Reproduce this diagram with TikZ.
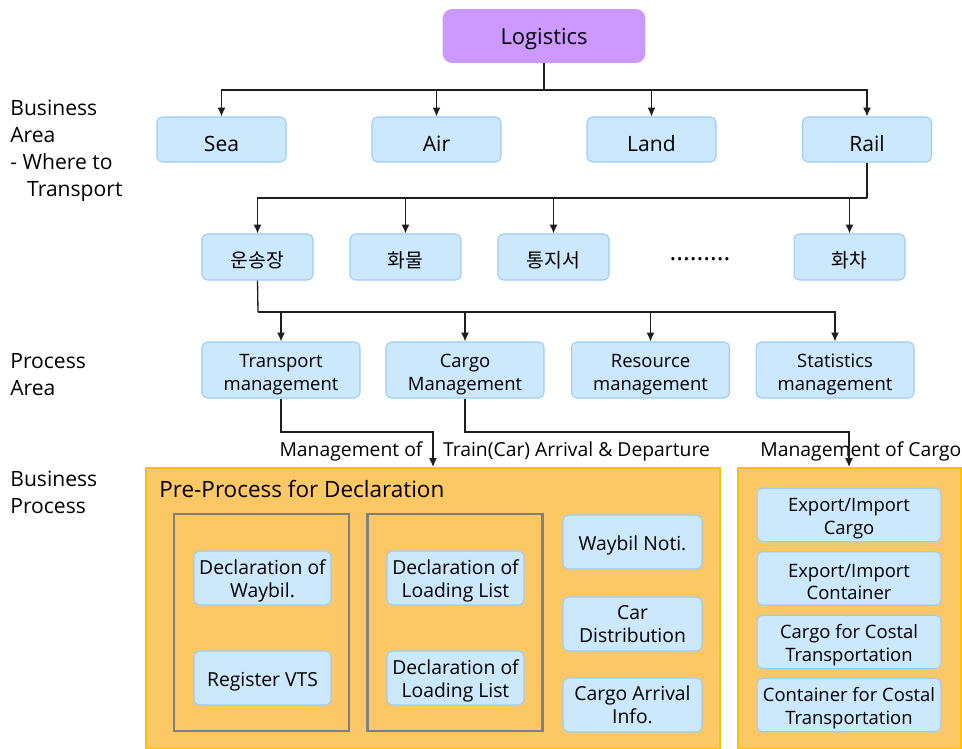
\documentclass[tikz,border=0pt]{standalone}
\usepackage{fontspec}
\setmainfont{Open Sans}
\newfontfamily\kr{Noto Sans CJK KR}
\usetikzlibrary{arrows.meta,positioning}

\definecolor{boxblue}{RGB}{204,232,252}
\definecolor{boxline}{RGB}{155,205,245}
\definecolor{logpurple}{RGB}{204,153,255}
\definecolor{bpfill}{RGB}{252,200,102}
\definecolor{bpline}{RGB}{255,192,0}
\definecolor{grpline}{RGB}{128,128,128}
\definecolor{wire}{RGB}{30,30,30}

\begin{document}
\begin{tikzpicture}[x=0.02cm, y=-0.02cm, >={Latex[length=5pt,width=4.5pt]}]

        % Setup the styles for the boxes
        \tikzset{text drop/.style={execute at begin node=\rule{0pt}{#1}},
                 blue box/.style={rectangle, rounded corners=3pt,
                                  draw=boxline, fill=boxblue, line width=0.6pt,
                                  align=center, inner sep=1pt, text drop=1.16em,
                                  font=\fontsize{10.5}{13}\selectfont},
                 area box/.style={blue box, minimum width=2.58cm, minimum height=0.9cm,
                                  execute at begin node={}, font=\fontsize{12}{14}\selectfont},
                 doc box/.style={blue box, minimum width=2.22cm, minimum height=0.92cm,
                                 text drop=0.9em, font=\fontsize{11}{13}\selectfont\kr},
                 proc box/.style={blue box, minimum width=3.16cm, minimum height=1.12cm,
                                  text drop=25.5pt},
                 task box/.style={blue box, minimum width=2.74cm, minimum height=1.08cm,
                                  font=\fontsize{11}{13}\selectfont},
                 noti box/.style={task box, minimum width=2.78cm},
                 cargo box/.style={blue box, minimum width=3.68cm, minimum height=1.07cm,
                                   text drop=24.5pt},
                 bp box/.style={rectangle, draw=bpline, fill=bpfill, line width=1.2pt,
                                minimum height=5.62cm},
                 group box/.style={rectangle, draw=grpline, line width=1.2pt,
                                   minimum width=3.5cm, minimum height=4.34cm},
                 side label/.style={anchor=north west, inner sep=0pt, align=left,
                                    font=\fontsize{12}{15.4}\selectfont},
                 flow label/.style={inner sep=0pt, font=\fontsize{11}{13}\selectfont},
                 line/.style={draw=wire, line width=0.75pt},
                 arrow/.style={line, ->}}

        \useasboundingbox (0,0) rectangle (962,749);

        % Side labels
        \node[side label] at (10,100) (ba) {Business\\Area\\- Where to\\\hspace*{0.8em}Transport};
        \node[side label] at (10,353) (pa) {Process\\Area};
        \node[side label] at (10,471) (bpr) {Business\\Process};

        % Business process frames
        \node[bp box, minimum width=11.48cm] at (433,608.5) (pre) {};
        \node[bp box, minimum width=4.46cm] at (849.5,608.5) (mc) {};
        \node[anchor=west, inner sep=0pt, font=\fontsize{12.8}{15}\selectfont]
            at (159,489) (pretitle) {Pre-Process for Declaration};
        \node[group box] at (261.5,622.5) (g1) {};
        \node[group box] at (455,622.5) (g2) {};

        % Top of the tree
        \node[rectangle, rounded corners=5pt, fill=logpurple, draw=logpurple,
              minimum width=4.04cm, minimum height=1.06cm, text drop=1em,
              font=\fontsize{12.5}{15}\selectfont] at (544,36) (log) {Logistics};

        \node[area box] at (221.5,139.5) (sea)  {Sea};
        \node[area box] at (436.5,139.5) (air)  {Air};
        \node[area box] at (651.5,139.5) (land) {Land};
        \node[area box] at (867,139.5)   (rail) {Rail};

        \node[doc box] at (257.5,257) (wb)  {운송장};
        \node[doc box] at (405.5,257) (crg) {화물};
        \node[doc box] at (553.5,257) (ntc) {통지서};
        \node[font=\fontsize{14.5}{16}\selectfont] at (700,259) (dots) {.........};
        \node[doc box] at (849.5,257) (car) {화차};

        \node[proc box] at (281,370)   (tm) {Transport\\management};
        \node[proc box] at (465,370)   (cm) {Cargo\\Management};
        \node[proc box] at (650.5,370) (rm) {Resource\\management};
        \node[proc box] at (835,370)   (sm) {Statistics\\management};

        % Business process tasks
        \node[task box, text drop=25pt] at (262.5,578) (dw)  {Declaration of\\Waybil.};
        \node[task box]                 at (262.5,678) (vts) {Register VTS};
        \node[task box, text drop=25pt] at (455.5,578) (dl1) {Declaration of\\Loading List};
        \node[task box, text drop=25pt] at (455.5,678) (dl2) {Declaration of\\Loading List};

        \node[noti box] at (632.5,542) (wn)  {Waybil Noti.};
        \node[noti box] at (632.5,624) (cd)  {Car\\Distribution};
        \node[noti box] at (632.5,705) (cai) {Cargo Arrival\\Info.};

        \node[cargo box] at (849,515)   (eic) {Export/Import\\Cargo};
        \node[cargo box] at (849,578.5) (eik) {Export/Import\\Container};
        \node[cargo box] at (849,642)   (cct) {Cargo for Costal\\Transportation};
        \node[cargo box] at (849,705)   (kct) {Container for Costal\\Transportation};

        % Junctions
        \coordinate (j1) at (544,90);
        \coordinate (j2) at (867,198);
        \coordinate (j3) at (258,312);
        \coordinate (t1) at (433,432);
        \coordinate (t2) at (849,432);

        % Connect the boxes
        \draw[line, line width=1.1pt] (log.south) -- (j1);
        \foreach \n in {sea, air, land, rail}
            \draw[arrow] (j1) -| (\n.north);

        \draw[line, line width=1.1pt] (rail.south) -- (j2);
        \foreach \n in {wb, crg, ntc, car}
            \draw[arrow] (j2) -| (\n.north);

        \draw[line] (wb.south) -- (j3);
        \foreach \n in {tm, cm, rm, sm}
            \draw[arrow] (j3) -| (\n.north);

        % Edge labels
        \node[flow label] at (351,451) (l1) {Management of};
        \node[flow label] at (576.5,451) (l2) {Train(Car) Arrival \& Departure};
        \node[flow label, anchor=west] at (760,451) (l3) {Management of Cargo};

        \draw[arrow] (tm.south) |- (t1) -- (t1 |- pre.north);
        \draw[arrow] (cm.south) |- (t2) -- (t2 |- mc.north);

\end{tikzpicture}
\end{document}
